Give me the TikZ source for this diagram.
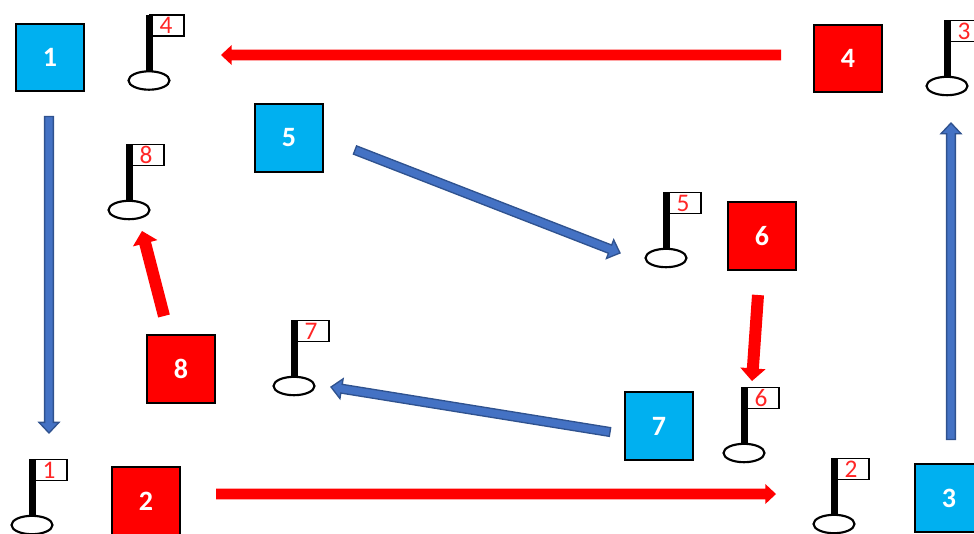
\documentclass[tikz,border=0pt]{standalone}
\usepackage{fontspec}
\setmainfont{Carlito}
\usetikzlibrary{calc}
\definecolor{cyanbox}{RGB}{0,176,240}
\definecolor{bluefill}{RGB}{68,114,196}
\definecolor{blueedge}{RGB}{47,82,143}
\tikzset{
  x=0.75pt,y=-0.75pt,
  sq/.style={draw=black,line width=1.5pt,minimum width=51.6pt,minimum height=50.6pt,inner sep=0pt,text=white,font=\fontsize{21}{21}\selectfont\bfseries},
  cyansq/.style={sq,fill=cyanbox},
  redsq/.style={sq,fill=red},
  bluearrow/.style={fill=bluefill,draw=blueedge,line width=1pt,line join=miter},
  redarrow/.style={fill=red,draw=none},
  flagtxt/.style={text=red!85!white,font=\fontsize{19}{19}\selectfont,inner sep=0pt},
}
% #1 name, #2 centre of ellipse x, #3 y, #4 label
\newcommand{\golfflag}[4]{%
  \coordinate (#1) at (#2,#3);
  \draw[black,line width=1.1pt,fill=white] ($(#1)+(1,-65.5)$) rectangle ($(#1)+(35,-44.5)$);
  \fill[black] ($(#1)+(-3,-66)$) rectangle ($(#1)+(4,-8)$);
  \draw[black,line width=1.6pt,fill=white] (#1) ellipse [x radius=20.5,y radius=9.2];
  \node[flagtxt] (#1t) at ($(#1)+(17,-55)$) {#4};
}
% #1 start, #2 end, #3 half shaft, #4 half head width, #5 head length, #6 style
\newcommand{\barrow}[6]{%
  \coordinate (bn) at ($(#2)!#5!(#1)$);
  \draw[#6] ($(#1)!#3!90:(#2)$) -- ($(bn)!#3!90:(#2)$) -- ($(bn)!#4!90:(#2)$) -- (#2)
    -- ($(bn)!#4!-90:(#2)$) -- ($(bn)!#3!-90:(#2)$) -- ($(#1)!#3!-90:(#2)$) -- cycle;
}
\begin{document}
\begin{tikzpicture}
\useasboundingbox (0,0) rectangle (974,533);
\clip (0,0) rectangle (974,533);
\node[cyansq] (s1) at (50,57.5) {1};
\node[redsq] (s2) at (146,501) {2};
\node[cyansq] (s3) at (949,498) {3};
\node[redsq] (s4) at (848,58.5) {4};
\node[cyansq] (s5) at (289,138) {5};
\node[redsq] (s6) at (762,236) {6};
\node[cyansq] (s7) at (659,426) {7};
\node[redsq] (s8) at (181,369) {8};
\golfflag{f1}{32}{525}{1}
\golfflag{f2}{834}{524}{2}
\golfflag{f3}{947}{86}{3}
\golfflag{f4}{149}{80.5}{4}
\golfflag{f5}{666}{258}{5}
\golfflag{f6}{744}{453}{6}
\golfflag{f7}{294}{386}{7}
\golfflag{f8}{129}{210}{8}
\coordinate (a1s) at (49,116.5); \coordinate (a1e) at (49,433);
\coordinate (a2s) at (216,494); \coordinate (a2e) at (776,494);
\coordinate (a3s) at (951,439.5); \coordinate (a3e) at (951,123);
\coordinate (a4s) at (781,55); \coordinate (a4e) at (221,55);
\coordinate (a5s) at (355,150); \coordinate (a5e) at (620,253);
\coordinate (a6s) at (758,295); \coordinate (a6e) at (752,381);
\coordinate (a7s) at (610,432); \coordinate (a7e) at (331,387);
\coordinate (a8s) at (164,316); \coordinate (a8e) at (142,231);
\barrow{a1s}{a1e}{3.3pt}{7.5pt}{8pt}{bluearrow}
\barrow{a2s}{a2e}{4pt}{7.5pt}{8pt}{redarrow}
\barrow{a3s}{a3e}{3.3pt}{7.5pt}{8pt}{bluearrow}
\barrow{a4s}{a4e}{4pt}{7.5pt}{8pt}{redarrow}
\barrow{a5s}{a5e}{3.3pt}{7.5pt}{8pt}{bluearrow}
\barrow{a6s}{a6e}{4.5pt}{9.5pt}{9.5pt}{redarrow}
\barrow{a7s}{a7e}{3.3pt}{7.5pt}{8pt}{bluearrow}
\barrow{a8s}{a8e}{4.5pt}{9.5pt}{9.5pt}{redarrow}
\end{tikzpicture}
\end{document}
